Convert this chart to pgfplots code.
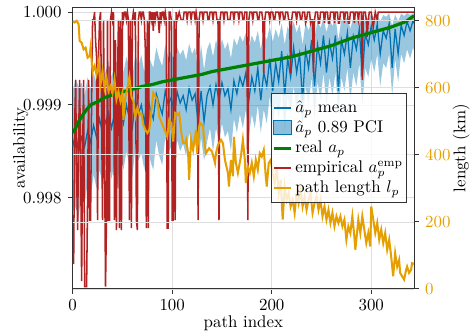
\documentclass[border=0pt]{standalone}
\usepackage{pgfplots}
\usepackage{pgfplotstable}
\pgfplotsset{compat=1.18}
\usepgfplotslibrary{fillbetween}
\definecolor{cblue}{HTML}{0072B2}
\definecolor{corange}{HTML}{E69F00}
\definecolor{cred}{HTML}{B22222}
\definecolor{cgreen}{HTML}{008000}

% x  mean  lo  hi
\pgfplotstableread{
x mean lo hi
0 0.998550 0.997850 0.999150
3 0.998700 0.997900 0.999280
6 0.998480 0.997800 0.999200
9 0.998650 0.998050 0.999240
12 0.998550 0.997950 0.999100
15 0.998720 0.998150 0.999300
18 0.998600 0.998000 0.999180
21 0.998780 0.998250 0.999350
24 0.998650 0.998100 0.999220
27 0.998850 0.998300 0.999400
30 0.998700 0.998150 0.999300
33 0.998820 0.998350 0.999360
36 0.998920 0.998400 0.999480
39 0.998750 0.998200 0.999300
42 0.998900 0.998380 0.999440
45 0.998700 0.998120 0.999280
48 0.998950 0.998450 0.999500
51 0.998800 0.998300 0.999350
54 0.999000 0.998500 0.999520
57 0.998850 0.998350 0.999400
60 0.998750 0.998220 0.999300
63 0.999050 0.998550 0.999550
66 0.998900 0.998400 0.999420
69 0.999000 0.998480 0.999540
72 0.998800 0.998300 0.999350
75 0.999100 0.998600 0.999600
78 0.998950 0.998400 0.999480
81 0.998850 0.998300 0.999400
84 0.999120 0.998620 0.999620
87 0.999000 0.998450 0.999500
90 0.998900 0.998350 0.999420
93 0.999150 0.998650 0.999650
96 0.999000 0.998480 0.999520
99 0.999080 0.998550 0.999580
102 0.998920 0.998400 0.999450
105 0.999140 0.998620 0.999620
108 0.999020 0.998500 0.999540
111 0.999100 0.998580 0.999600
114 0.998950 0.998450 0.999480
117 0.999180 0.998700 0.999660
120 0.999050 0.998550 0.999550
123 0.999120 0.998620 0.999620
126 0.998800 0.998350 0.999350
129 0.999150 0.998650 0.999650
132 0.998820 0.998400 0.999380
135 0.999100 0.998600 0.999600
138 0.999200 0.998750 0.999680
141 0.999000 0.998500 0.999520
144 0.999220 0.998750 0.999700
147 0.999050 0.998600 0.999580
150 0.999240 0.998800 0.999710
153 0.999100 0.998650 0.999600
156 0.999180 0.998720 0.999680
159 0.998950 0.998500 0.999500
162 0.999260 0.998850 0.999720
165 0.999120 0.998700 0.999640
168 0.999300 0.998900 0.999750
171 0.999200 0.998750 0.999680
174 0.999350 0.998950 0.999780
177 0.999050 0.998650 0.999620
180 0.999300 0.998900 0.999750
183 0.999150 0.998750 0.999670
186 0.999400 0.999000 0.999800
189 0.999050 0.998700 0.999600
192 0.999350 0.998950 0.999780
195 0.999200 0.998800 0.999700
198 0.999500 0.999100 0.999850
201 0.999150 0.998750 0.999680
204 0.999450 0.999050 0.999820
207 0.999250 0.998850 0.999720
210 0.999580 0.999150 0.999880
213 0.999100 0.998700 0.999650
216 0.999500 0.999100 0.999850
219 0.999300 0.998900 0.999750
222 0.999620 0.999200 0.999900
225 0.999350 0.998950 0.999780
228 0.999550 0.999150 0.999870
231 0.999050 0.998750 0.999650
234 0.999600 0.999200 0.999890
237 0.999400 0.999000 0.999800
240 0.999700 0.999300 0.999920
243 0.999200 0.998850 0.999720
246 0.999650 0.999250 0.999910
249 0.999450 0.999050 0.999830
252 0.999750 0.999350 0.999940
255 0.999350 0.999000 0.999780
258 0.999680 0.999300 0.999920
261 0.999500 0.999100 0.999850
264 0.999750 0.999350 0.999950
267 0.999150 0.998900 0.999700
270 0.999700 0.999300 0.999930
273 0.999550 0.999150 0.999880
276 0.999780 0.999400 0.999960
279 0.999400 0.999050 0.999820
282 0.999740 0.999350 0.999950
285 0.999600 0.999200 0.999900
288 0.999820 0.999450 0.999970
291 0.999300 0.999000 0.999780
294 0.999770 0.999400 0.999960
297 0.999650 0.999300 0.999920
300 0.999850 0.999500 0.999980
303 0.999700 0.999350 0.999940
306 0.999870 0.999550 0.999985
309 0.999550 0.999200 0.999900
312 0.999800 0.999450 0.999970
315 0.999720 0.999400 0.999950
318 0.999880 0.999550 0.999990
321 0.999400 0.999100 0.999850
324 0.999820 0.999500 0.999975
327 0.999550 0.999250 0.999900
330 0.999860 0.999550 0.999985
333 0.999750 0.999450 0.999960
336 0.999900 0.999600 0.999990
339 0.999800 0.999500 0.999970
342 0.999910 0.999620 0.999990
343 0.999880 0.999580 0.999985
}\bluetab

\pgfplotstableread{
x y
0 0.99870
3 0.99875
6 0.99882
10 0.99889
14 0.99895
18 0.99900
22 0.99902
26 0.99904
30 0.99907
40 0.99911
50 0.99914
60 0.99917
70 0.99920
80 0.99922
90 0.99925
100 0.99927
110 0.99929
120 0.99931
130 0.99933
140 0.99936
150 0.99938
160 0.99940
170 0.99942
180 0.99944
190 0.99946
200 0.99948
210 0.99950
220 0.99952
230 0.99955
240 0.99958
250 0.99961
260 0.99964
270 0.99968
280 0.99972
290 0.99975
300 0.99978
310 0.99981
320 0.99984
330 0.99988
335 0.99990
340 0.99994
343 0.99996
}\greentab

\pgfplotstableread{
x y
0 0.997292
1 0.997292
2 0.998800
3 0.999270
4 0.998200
5 0.997651
6 0.998700
7 0.999270
8 0.998400
9 0.997100
10 0.998500
11 0.999270
12 0.997040
13 0.997040
14 0.997040
15 0.998000
16 0.999270
17 0.997759
18 0.997759
19 0.999000
20 0.999917
21 0.999917
22 1.000000
23 0.999700
24 0.999521
25 0.997759
26 0.999521
27 0.999917
28 1.000000
29 0.999000
30 0.997759
31 0.999917
32 0.998500
33 0.997040
34 0.997759
35 0.999917
36 0.997759
37 0.997759
38 0.999917
39 1.000000
40 0.999917
41 1.000000
42 0.997759
43 0.999700
44 0.997651
45 0.999270
46 0.999917
47 0.997672
48 0.999917
49 0.997651
50 1.000000
51 0.999917
52 1.000000
53 1.000000
54 0.999917
55 1.000000
56 0.999917
57 0.997759
58 0.999917
59 0.997672
60 0.999917
61 1.000000
62 0.999917
63 1.000000
64 0.997759
65 0.997651
66 0.999917
67 1.000000
68 1.000000
69 0.999917
70 1.000000
71 1.000000
72 0.999917
73 0.999600
74 0.997672
75 0.999917
76 0.997672
77 1.000000
78 1.000000
79 0.999917
80 1.000000
81 0.999800
82 1.000000
83 0.999917
84 1.000000
85 1.000000
86 0.999917
87 0.999775
88 1.000000
89 0.999917
90 1.000000
91 1.000000
92 0.999917
93 1.000000
94 0.999917
95 0.997672
96 0.997672
97 1.000000
98 1.000000
99 0.999917
100 0.997759
101 0.997759
102 0.999917
103 0.997759
104 1.000000
105 0.999917
107 1.000000
109 0.999917
111 0.999917
112 1.000000
114 1.000000
115 0.999917
116 1.000000
118 1.000000
119 0.999917
120 1.000000
122 1.000000
123 0.999917
124 1.000000
125 0.999917
126 0.997759
127 0.999917
128 1.000000
130 1.000000
131 0.999917
132 1.000000
135 1.000000
136 0.999917
137 0.999917
138 1.000000
140 1.000000
141 0.999917
142 1.000000
144 1.000000
145 0.999917
146 0.999917
147 0.997759
148 0.999917
149 1.000000
151 1.000000
152 0.999917
153 1.000000
155 1.000000
156 0.999917
158 0.999917
159 1.000000
161 1.000000
162 0.999917
163 1.000000
166 1.000000
167 0.999917
168 1.000000
170 1.000000
171 0.999917
172 0.999917
173 1.000000
175 1.000000
176 0.997759
177 0.999917
178 1.000000
180 1.000000
181 0.999917
182 1.000000
185 1.000000
186 0.999917
187 0.999917
188 1.000000
190 1.000000
191 0.999917
192 0.999342
193 0.999917
194 1.000000
197 1.000000
198 0.999917
199 1.000000
201 1.000000
202 0.999917
203 0.999917
204 1.000000
207 1.000000
208 0.999917
209 1.000000
211 1.000000
212 0.999917
213 0.999917
214 1.000000
216 1.000000
217 0.999917
218 0.999917
219 0.999342
220 0.999917
221 1.000000
224 1.000000
225 0.999917
226 1.000000
228 1.000000
229 0.999917
230 0.999917
231 1.000000
233 1.000000
234 0.999882
235 0.999917
236 1.000000
238 1.000000
239 0.999882
240 0.999917
241 0.999917
242 0.999342
243 0.999917
244 1.000000
246 1.000000
247 0.999882
248 0.999882
249 1.000000
252 1.000000
253 0.999882
254 1.000000
256 1.000000
257 0.999882
258 0.999882
259 1.000000
262 1.000000
263 0.999882
264 1.000000
266 1.000000
267 0.999882
268 0.999882
269 1.000000
272 1.000000
273 0.999882
274 1.000000
276 1.000000
277 0.999882
278 0.999882
279 1.000000
282 1.000000
283 0.999882
284 1.000000
286 1.000000
287 0.999917
288 1.000000
290 1.000000
291 0.999270
292 1.000000
294 1.000000
295 0.999917
296 0.999735
297 0.999917
298 1.000000
300 1.000000
301 0.999917
302 0.999840
303 0.999917
304 1.000000
306 0.999917
307 1.000000
343 1.000000
}\redtab

\pgfplotstableread{
x y
0 798
2 795
4 800
6 790
7 740
9 735
11 715
13 720
15 690
17 695
18 720
20 648
22 665
24 640
26 675
28 610
30 650
32 600
34 630
36 590
38 605
40 585
42 625
44 565
46 590
48 560
50 585
51 504
53 575
55 600
57 633
59 574
61 560
63 514
65 540
67 520
69 525
71 490
73 475
75 465
77 475
79 530
81 585
83 575
85 564
87 514
89 500
91 484
93 470
95 455
97 504
99 495
101 440
103 525
105 520
107 525
109 470
111 435
113 435
114 445
116 405
117 326
119 445
121 415
124 475
125 405
127 485
128 495
131 485
132 445
134 405
137 420
140 410
143 376
144 405
146 430
149 445
151 435
153 385
156 346
157 306
159 385
161 336
162 454
164 376
166 346
169 395
171 445
173 385
174 316
176 365
178 346
180 376
182 336
184 385
186 356
188 405
190 395
192 415
194 336
195 306
197 376
199 385
201 346
203 316
205 365
207 286
209 326
211 207
213 306
215 266
217 286
219 246
221 266
223 227
225 286
227 256
229 296
231 246
233 276
235 236
237 266
239 286
241 227
243 256
245 276
247 236
249 266
251 217
253 246
255 207
257 236
259 197
261 227
263 187
265 217
267 197
269 217
271 187
273 207
275 147
277 187
279 167
281 217
283 157
284 117
286 177
287 207
289 167
291 217
293 177
295 137
297 167
299 127
300 246
302 207
304 167
306 197
308 147
310 177
312 137
314 167
316 117
318 147
320 97
322 38
324 107
326 67
328 87
329 48
331 38
333 28
335 57
336 67
338 48
340 57
341 77
343 75
}\orangetab

\begin{document}
\begin{tikzpicture}
\pgfplotsset{
  every axis/.append style={
    width=202pt, height=166.6pt, scale only axis,
    xmin=0, xmax=343,
    tick align=outside, major tick length=3pt,
    axis line style={black!80, line width=0.6pt},
    major grid style={black!13, line width=0.5pt},
    every tick/.style={black!80, line width=0.6pt},
  },
}
\begin{axis}[
  ymin=0.997015, ymax=1.0000518,
  tick pos=left,
  xtick={0,100,200,300},
  ytick={0.998,0.999,1.000},
  yticklabel style={/pgf/number format/.cd, fixed, fixed zerofill, precision=3},
  scaled y ticks=false,
  grid=major,
  xlabel={path index}, ylabel={availability},
  ylabel shift=-10pt, xlabel shift=-4pt,
]
\addplot[name path=hi, draw=none, forget plot] table[x=x, y=hi] {\bluetab};
\addplot[name path=lo, draw=none, forget plot] table[x=x, y=lo] {\bluetab};
\addplot[fill=cblue, fill opacity=0.4, draw=none, forget plot] fill between[of=hi and lo];
\addplot[cblue, line width=0.75pt, forget plot] table[x=x, y=mean] {\bluetab};
\addplot[cred, line width=0.9pt, forget plot] table[x=x, y=y] {\redtab};
\addplot[cgreen, line width=1.9pt, forget plot] table[x=x, y=y] {\greentab};
\coordinate (bl) at (rel axis cs:0,0);
\coordinate (tr) at (rel axis cs:1,1);
\end{axis}
\begin{axis}[
  ymin=0, ymax=840,
  axis y line*=right, axis x line=none,
  ytick={0,200,400,600,800},
  ymajorgrids,
  yticklabel style={text=corange},
  ylabel={length (km)},
  ylabel shift=-5.5pt,
  legend style={at={(0.9795,0.3037)}, anchor=south east,
    draw=black!80, line width=0.6pt, fill=white, fill opacity=0.8,
    draw opacity=1, text opacity=1, cells={anchor=west}, row sep=-0.6pt,
    inner xsep=0.5pt, inner ysep=2.5pt,
    nodes={inner xsep=1.6pt}},
  legend image code/.code={\draw[#1] (0cm,0cm) -- (0.36cm,0cm);},
]
\addlegendimage{cblue, line width=0.75pt}
\addlegendentry{$\hat{a}_p$ mean}
\addlegendimage{legend image code/.code={\fill[cblue, fill opacity=0.45] (0cm,-0.13cm) rectangle (0.36cm,0.15cm);}}
\addlegendentry{$\hat{a}_p$ 0.89 PCI}
\addlegendimage{cgreen, line width=1.9pt}
\addlegendentry{real $a_p$}
\addlegendimage{cred, line width=0.9pt}
\addlegendentry{empirical $a_p^{\mathrm{emp}}$}
\addplot[corange, line width=1.2pt] table[x=x, y=y] {\orangetab};
\addlegendentry{path length $l_p$}
\end{axis}
\pgfresetboundingbox
\path[use as bounding box] (bl) ++(-43pt,-25.4pt) rectangle ([shift={(33.1pt,4.4pt)}]tr);
\end{tikzpicture}
\end{document}
